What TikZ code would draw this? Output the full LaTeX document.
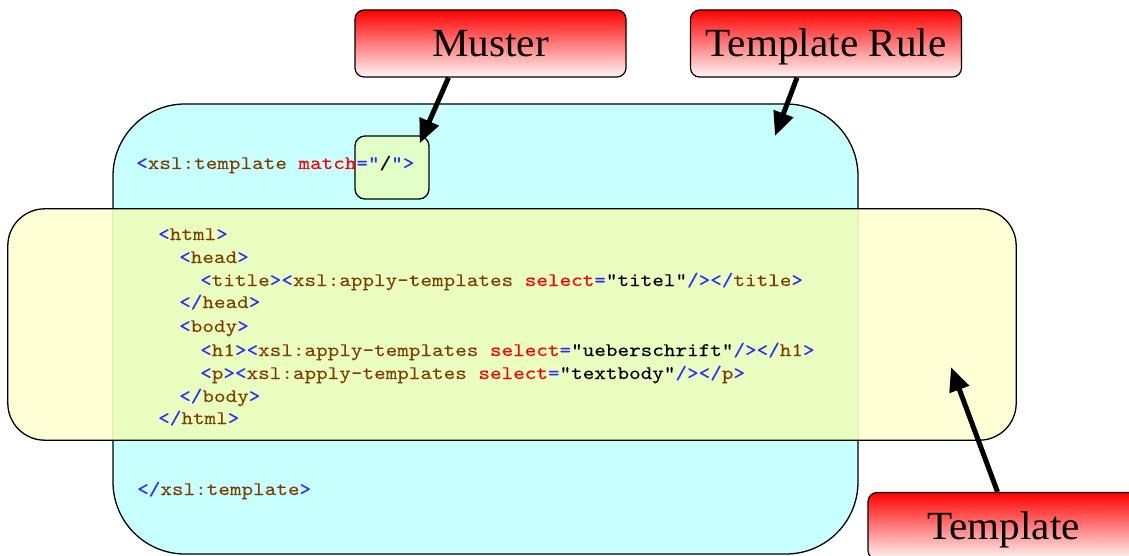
\documentclass[tikz,border=0pt]{standalone}
\usepackage{fontspec}
\setmainfont{Liberation Serif}
\newfontfamily\codefont{lmmono10-regular}[Extension=.otf, FakeStretch=1.15, FakeBold=0.1]
\newfontfamily\labelfont{Liberation Serif}[FakeStretch=1.03]
\usetikzlibrary{arrows.meta,calc}

\definecolor{rulefill}{RGB}{200,255,255}
\definecolor{bodyfill}{RGB}{255,255,204}
\definecolor{mixfill}{RGB}{232,255,186}
\definecolor{patfill}{RGB}{226,255,200}
\definecolor{tagc}{RGB}{45,45,255}
\definecolor{elemc}{RGB}{125,62,0}
\definecolor{attrc}{RGB}{255,0,0}
\definecolor{labtop}{RGB}{255,0,0}
\definecolor{labbot}{RGB}{255,246,246}

% syntax colouring for the XSLT listing
\newcommand\cT[1]{\textcolor{tagc}{#1}}
\newcommand\cE[1]{\textcolor{elemc}{#1}}
\newcommand\cA[1]{\textcolor{attrc}{#1}}
\newcommand\cV[1]{\textcolor{black}{#1}}

\tikzset{
  outline/.style={line width=1.3pt},
  callout/.style={draw, line width=1.2pt, rounded corners=9pt,
    top color=labtop, bottom color=labbot,
    minimum width=271pt, minimum height=67pt,
    text height=27pt, text depth=0pt, inner sep=0pt,
    font=\labelfont\fontsize{40}{40}\selectfont},
  codeline/.style={anchor=base west, inner sep=0pt,
    font=\codefont\fontsize{19.2}{23}\selectfont},
  pointer/.style={line width=5pt, -{Triangle[length=24pt,width=20pt]}},
}

\begin{document}
\begin{tikzpicture}[x=1pt,y=-1pt]
\useasboundingbox (0,0) rectangle (1129,556);
\clip (0,0) rectangle (1129,556);

% template rule area
\node[fill=rulefill, draw, outline, rounded corners=72pt,
      minimum width=745pt, minimum height=450pt, inner sep=0pt]
      (rule) at (485.5,329) {};

% template body area, laid over the rule
\node[fill=bodyfill, fill opacity=0.8, rounded corners=37pt,
      minimum width=1008pt, minimum height=231pt, inner sep=0pt]
      (body) at (512,324.5) {};
\begin{scope}
  \clip[rounded corners=72pt] (rule.south west) rectangle (rule.north east);
  \fill[mixfill, fill opacity=0.8, rounded corners=37pt]
    (body.south west) rectangle (body.north east);
\end{scope}
\draw[outline, rounded corners=37pt] (body.south west) rectangle (body.north east);

% pattern box around the match value
\node[fill=patfill, draw, outline, rounded corners=10pt,
      minimum width=74pt, minimum height=63pt, inner sep=0pt]
      (pat) at (392,167.5) {};

% listing
\node[codeline] (l1) at (136,169) {\cT{<}\cE{xsl:template} \cA{match}\cT{="}\cV{/}\cT{">}};
\node[codeline] (l2) at (158,240) {\cT{<}\cE{html}\cT{>}};
\node[codeline] (l3) at (179,263) {\cT{<}\cE{head}\cT{>}};
\node[codeline] (l4) at (200,286) {\cT{<}\cE{title}\cT{><}\cE{xsl:apply-templates} \cA{select}\cT{=}\cV{"titel"}\cT{/></}\cE{title}\cT{>}};
\node[codeline] (l5) at (179,308) {\cT{</}\cE{head}\cT{>}};
\node[codeline] (l6) at (179,332) {\cT{<}\cE{body}\cT{>}};
\node[codeline] (l7) at (200,356) {\cT{<}\cE{h1}\cT{><}\cE{xsl:apply-templates} \cA{select}\cT{=}\cV{"ueberschrift"}\cT{/></}\cE{h1}\cT{>}};
\node[codeline] (l8) at (200,379) {\cT{<}\cE{p}\cT{><}\cE{xsl:apply-templates} \cA{select}\cT{=}\cV{"textbody"}\cT{/></}\cE{p}\cT{>}};
\node[codeline] (l9) at (179,402) {\cT{</}\cE{body}\cT{>}};
\node[codeline] (l10) at (158,424) {\cT{</}\cE{html}\cT{>}};
\node[codeline] (l11) at (137,495) {\cT{</}\cE{xsl:template}\cT{>}};

% labels
\node[callout] (muster) at (490.5,43.5) {Muster};
\node[callout] (rulelab) at (826,43.5) {Template Rule};
\node[callout] (tmpllab) at (1003.5,526) {Template};

% pointers
\coordinate (ruletip) at (775,136);
\coordinate (bodytip) at (951,367);
\draw[pointer] ($(muster.south)+(-42,0)$) -- ($(pat.north east)+(-10,8)$);
\draw[pointer] ($(rulelab.south)+(-29,0)$) -- (ruletip);
\draw[pointer] ($(tmpllab.north)+(-6,0)$) -- (bodytip);
\end{tikzpicture}
\end{document}
